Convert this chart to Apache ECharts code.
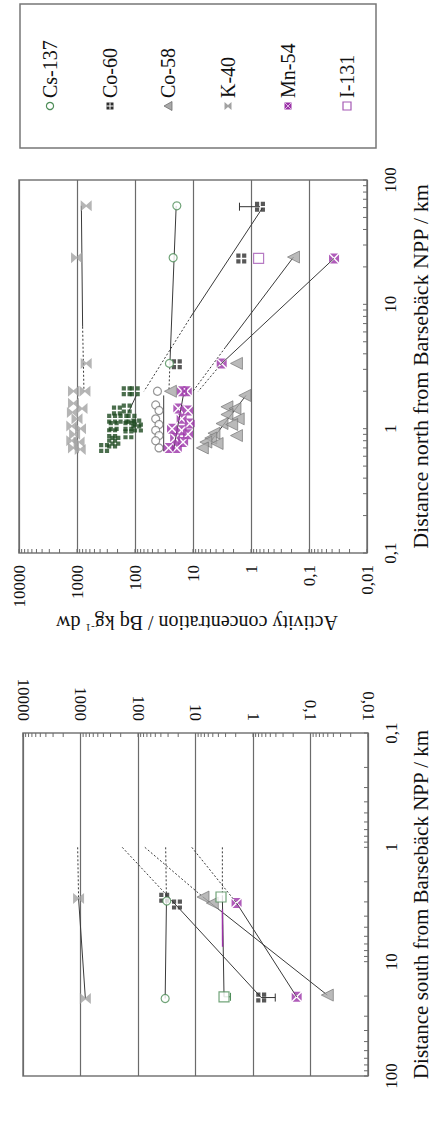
<!DOCTYPE html>
<html>
<head>
<meta charset="utf-8">
<script src="https://cdn.jsdelivr.net/npm/echarts@6/dist/echarts.min.js"></script>
<style>
html,body{margin:0;padding:0;background:#fff;}
#chart{width:439px;height:1121px;}
</style>
</head>
<body>
<div id="chart"></div>
<script>
// ---------- tick labels ----------
const activityTickValues = [0.01, 0.1, 1, 10, 100, 1000, 10000];
const activityTickLabels = ['0,01', '0,1', '1', '10', '100', '1000', '10000'];
const distanceTickValues = [0.1, 1, 10, 100];
const distanceTickLabels = ['0,1', '1', '10', '100'];
const minorMultipliers = [1, 2, 3, 4, 5, 6, 7, 8, 9];

// ---------- legend ----------
const nuclides = ['Cs-137', 'Co-60', 'Co-58', 'K-40', 'Mn-54', 'I-131'];

// ---------- NORTH panel: [activity Bq/kg dw, distance km] ----------
const northCs137 = [[19, 62], [22, 23.7], [25.5, 3.35]];
const northCs137Near = [[41, 2.0], [44, 1.55], [38.6, 1.4], [44, 1.2], [38.6, 1.08], [44, 0.97], [38.6, 0.88], [44, 0.8], [38.6, 0.7]];
const northCo60 = [[0.70, 61], [1.47, 23.4], [19, 3.3]];
const northCo60Near = [[139, 2.0], [101, 2.0], [139, 1.45], [205, 1.4], [248, 1.2], [158, 1.2], [115, 1.2], [95, 1.1], [89, 1.02], [233, 1.05], [130, 1.05], [248, 0.92], [130, 0.9], [218, 0.8], [248, 0.76], [341, 0.7]];
const northCo58 = [[0.185, 24], [1.78, 3.35], [24.5, 2.0], [1.28, 1.85], [2.6, 1.5], [1.89, 1.45], [2.6, 1.3], [1.66, 1.2], [3.16, 1.1], [2.15, 1.08], [4.35, 0.92], [1.78, 0.88], [4.94, 0.84], [6.0, 0.78], [3.84, 0.76], [6.9, 0.7]];
const northK40 = [[694, 62], [1018, 23.7], [694, 3.35], [1150, 2.0], [730, 2.0], [1150, 1.6], [820, 1.45], [1200, 1.35], [1000, 1.2], [1230, 1.05], [870, 1.0], [1100, 0.9], [1230, 0.8], [920, 0.78], [1150, 0.7], [880, 0.68]];
const northMn54 = [[0.037, 23.4], [3.2, 3.35], [15.5, 2.0], [12.8, 2.0], [17.9, 1.45], [12.2, 1.4], [15.7, 1.2], [11.4, 1.1], [23, 1.0], [15.7, 0.97], [12.2, 0.9], [20.3, 0.84], [14.8, 0.78], [26.3, 0.7], [19, 0.7]];
const northI131 = [[0.74, 23.4]];
const northCo60ErrorBar = [[0.70, 61, 1.58]];

const northK40FitSolid = [[841, 62], [800, 6.6]];
const northK40FitDotted = [[800, 6.6], [759, 2.0]];
const northCs137FitSolid = [[19.5, 62], [25, 3.35]];
const northCs137FitDotted = [[25, 3.35], [26, 2.0]];
const northCo60FitSolid = [[0.635, 59.6], [10.8, 8]];
const northCo60FitDotted = [[10.8, 8], [70, 2.0]];
const northCo58FitSolid = [[0.185, 24], [2.77, 4.5]];
const northCo58FitDotted = [[2.77, 4.5], [10, 2.0]];
const northMn54FitSolid = [[0.037, 23.4], [3.2, 3.35]];
const northMn54FitDotted = [[3.2, 3.35], [8.1, 2.0]];
const northCo60NearFit = [[95, 1.85], [130, 1.35]];
const northCs137NearFit = [[32, 1.85], [32, 0.66]];
const northMn54NearFit = [[14.7, 1.85], [21.7, 0.67]];
const northCo58NearFit = [[1.22, 1.85], [4.94, 0.79]];

// ---------- SOUTH panel ----------
const southK40 = [[1080, 2.8], [823, 21]];
const southCs137 = [[31.6, 2.95], [33.7, 21]];
const southCo60 = [[35, 2.76], [21, 3.17], [0.72, 20.6]];
const southCo58 = [[7.4, 2.72], [5.1, 3.07], [0.051, 19.6]];
const southI131 = [[3.6, 2.72], [3.19, 20.3]];
const southMn54 = [[1.93, 3.07], [0.174, 20.3]];
const southCo60ErrorBar = [[0.72, 20.6, 0.41]];
const southI131ErrorBar = [[3.19, 20.3, 2.46]];

const southK40FitDotted = [[1120, 1], [1080, 2.8]];
const southK40FitSolid = [[1080, 2.8], [823, 21]];
const southCs137FitDotted = [[33, 1], [32, 2.95]];
const southCs137FitSolid = [[32, 2.95], [33.7, 21]];
const southCo60FitDotted = [[188, 1], [26.3, 2.89]];
const southCo60FitSolid = [[26.3, 2.89], [0.72, 20.6]];
const southCo58FitDotted = [[76, 1], [7.4, 2.72]];
const southCo58FitSolid = [[7.4, 2.72], [0.051, 19.6]];
const southMn54FitDotted = [[11.6, 1], [1.93, 3.07]];
const southMn54FitSolid = [[1.93, 3.07], [0.174, 20.3]];
const southI131FitDotted = [[3.41, 1], [3.41, 2.72]];
const southI131FitSolid = [[3.41, 2.72], [3.19, 20.3]];
const southI131FitPurple = [[3.41, 3.5], [3.38, 7.4]];

// ---------- styling ----------
const FONT = '"Liberation Serif", "DejaVu Serif", serif';
const C = {
  cs: '#4e8d58', co60g: '#1e4a20', co60k: '#2e2e2e', co58: '#a9a9a9', co58s: '#6e6e6e',
  k40: '#a2a2a2', mn: '#9b32a7', i131: '#a55ab5', line: '#3a3a3a', grid: '#6b6b6b', tick: '#6b6b6b'
};
const SYM = {
  co60: 'path://M0,0H4.2V4.2H0Z M5.8,0H10V4.2H5.8Z M0,5.8H4.2V10H0Z M5.8,5.8H10V10H5.8Z',
  k40: 'path://M0,0L5,4.2L10,0V10L5,5.8L0,10Z',
  mn: 'path://M1,0H9L5,4Z M10,1V9L6,5Z M9,10H1L5,6Z M0,9V1L4,5Z'
};

function labelFormatter(values, labels) {
  return function (v) {
    const i = values.findIndex(t => Math.abs(Math.log10(t) - Math.log10(v)) < 1e-6);
    return i >= 0 ? labels[i] : '';
  };
}

function activityAxis(g, position, margin) {
  return {
    type: 'log', logBase: 10, min: 0.01, max: 10000, inverse: true, gridIndex: g, position: position,
    axisLine: { show: false }, axisTick: { show: false },
    splitLine: { show: true, lineStyle: { color: C.grid, width: 1.2 } },
    axisLabel: { rotate: 90, margin: margin, fontFamily: FONT, fontSize: 17, color: '#111',
      formatter: labelFormatter(activityTickValues, activityTickLabels) }
  };
}
function distanceAxis(g, inverse, name, nameSize) {
  return {
    type: 'log', logBase: 10, min: 0.1, max: 100, inverse: inverse, gridIndex: g, position: 'right',
    axisLine: { show: false }, axisTick: { show: false }, splitLine: { show: false },
    axisLabel: { rotate: 90, margin: 15, fontFamily: FONT, fontSize: 17, color: '#111',
      formatter: labelFormatter(distanceTickValues, distanceTickLabels) },
    name: name, nameLocation: 'middle', nameRotate: 90, nameGap: 42,
    nameTextStyle: { fontFamily: FONT, fontSize: nameSize, color: '#111' }
  };
}

function pts(data, g, symbol, size, style, rot) {
  return { type: 'scatter', xAxisIndex: g, yAxisIndex: g, data: data, symbol: symbol, symbolSize: size,
    symbolRotate: rot || 0, symbolKeepAspect: true, itemStyle: style, z: 5, silent: true };
}
function seg(data, g, dotted, color, width) {
  return { type: 'line', xAxisIndex: g, yAxisIndex: g, data: data, symbol: 'none', showSymbol: false,
    lineStyle: { color: color || C.line, width: width || 1, type: dotted ? [2, 2] : 'solid' }, z: 3, silent: true };
}
function errorBars(data, g, color) {
  return { type: 'custom', xAxisIndex: g, yAxisIndex: g, data: data, z: 4, silent: true, clip: false,
    encode: { x: 0, y: 1 },
    renderItem: function (params, api) {
      const p = api.coord([api.value(0), api.value(1)]);
      const q = api.coord([api.value(2), api.value(1)]);
      return { type: 'group', children: [
        { type: 'line', shape: { x1: p[0], y1: p[1], x2: q[0], y2: q[1] }, style: { stroke: color, lineWidth: 1 } },
        { type: 'line', shape: { x1: q[0], y1: q[1] - 4, x2: q[0], y2: q[1] + 4 }, style: { stroke: color, lineWidth: 1 } }
      ] };
    } };
}
function tickValues(loExp, hiExp) {
  const out = [];
  for (let e = loExp; e < hiExp; e++) minorMultipliers.forEach(m => out.push(m * Math.pow(10, e)));
  out.push(Math.pow(10, hiExp));
  return out;
}
function activityTicks(g, dir) {
  const data = tickValues(-2, 4).map(v => [v, 0.1]);
  return { type: 'custom', xAxisIndex: g, yAxisIndex: g, data: data, z: 2, silent: true, clip: false,
    encode: { x: 0, y: 1 },
    renderItem: function (params, api) {
      const p = api.coord([api.value(0), api.value(1)]);
      return { type: 'line', shape: { x1: p[0], y1: p[1], x2: p[0], y2: p[1] + dir * 4 }, style: { stroke: C.tick, lineWidth: 1 } };
    } };
}
function distanceTicks(g) {
  const data = tickValues(-1, 2).map(v => [0.01, v]);
  return { type: 'custom', xAxisIndex: g, yAxisIndex: g, data: data, z: 2, silent: true, clip: false,
    encode: { x: 0, y: 1 },
    renderItem: function (params, api) {
      const p = api.coord([api.value(0), api.value(1)]);
      return { type: 'line', shape: { x1: p[0], y1: p[1], x2: p[0] - 4, y2: p[1] }, style: { stroke: C.tick, lineWidth: 1 } };
    } };
}

const open = (c) => ({ color: '#fff', borderColor: c, borderWidth: 1.2 });
const tri = { color: C.co58, borderColor: C.co58s, borderWidth: 0.8 };

const series = [
  activityTicks(0, -1), distanceTicks(0), activityTicks(1, 1), distanceTicks(1),
  // north lines
  seg(northK40FitSolid, 0), seg(northK40FitDotted, 0, true),
  seg(northCs137FitSolid, 0), seg(northCs137FitDotted, 0, true),
  seg(northCo60FitSolid, 0), seg(northCo60FitDotted, 0, true),
  seg(northCo58FitSolid, 0), seg(northCo58FitDotted, 0, true),
  seg(northMn54FitSolid, 0), seg(northMn54FitDotted, 0, true),
  seg(northCo60NearFit, 0), seg(northCs137NearFit, 0), seg(northMn54NearFit, 0), seg(northCo58NearFit, 0),
  // north points
  pts(northK40, 0, SYM.k40, 11, { color: C.k40 }),
  pts(northCo60Near, 0, SYM.co60, 10, { color: C.co60g }),
  pts(northCo60, 0, SYM.co60, 10, { color: C.co60k }),
  pts(northCs137Near, 0, 'circle', 8, open('#7a7a7a')),
  pts(northCs137, 0, 'circle', 8, open(C.cs)),
  pts(northCo58, 0, 'triangle', 12, tri, 90),
  pts(northMn54, 0, SYM.mn, 10, { color: C.mn }),
  pts(northI131, 0, 'rect', 10, open(C.i131)),
  errorBars(northCo60ErrorBar, 0, '#333'),
  // south lines
  seg(southK40FitDotted, 1, true), seg(southK40FitSolid, 1),
  seg(southCs137FitDotted, 1, true), seg(southCs137FitSolid, 1),
  seg(southCo60FitDotted, 1, true), seg(southCo60FitSolid, 1),
  seg(southCo58FitDotted, 1, true), seg(southCo58FitSolid, 1),
  seg(southMn54FitDotted, 1, true), seg(southMn54FitSolid, 1),
  seg(southI131FitDotted, 1, true), seg(southI131FitSolid, 1), seg(southI131FitPurple, 1, false, C.mn, 1.4),
  // south points
  pts(southK40, 1, SYM.k40, 11, { color: C.k40 }),
  pts(southCo60, 1, SYM.co60, 10, { color: C.co60k }),
  pts(southCs137, 1, 'circle', 8, open(C.cs)),
  pts(southCo58, 1, 'triangle', 12, tri, 90),
  pts(southMn54, 1, SYM.mn, 10, { color: C.mn }),
  pts(southI131, 1, 'rect', 10, open(C.cs)),
  errorBars(southCo60ErrorBar, 1, '#333'),
  errorBars(southI131ErrorBar, 1, C.cs)
];

// legend graphics (rotated like the rest of the figure)
const legendX = [50, 110, 168, 228, 288, 347];
const legendSymY = 106;
function legendSymbol(i) {
  const x = legendX[i], y = legendSymY;
  switch (i) {
    case 0: return { type: 'circle', shape: { cx: x, cy: y, r: 3.6 }, style: { fill: '#fff', stroke: C.cs, lineWidth: 1.2 } };
    case 1: return { type: 'group', children: [
      { type: 'rect', shape: { x: x - 3.5, y: y - 3.5, width: 7, height: 7 }, style: { fill: C.co60k } },
      { type: 'line', shape: { x1: x, y1: y - 3.5, x2: x, y2: y + 3.5 }, style: { stroke: '#fff', lineWidth: 1 } },
      { type: 'line', shape: { x1: x - 3.5, y1: y, x2: x + 3.5, y2: y }, style: { stroke: '#fff', lineWidth: 1 } }] };
    case 2: return { type: 'polygon', shape: { points: [[x + 4, y - 4.5], [x + 4, y + 4.5], [x - 4, y]] }, style: { fill: C.co58, stroke: C.co58s, lineWidth: 0.8 } };
    case 3: return { type: 'polygon', shape: { points: [[x - 3.5, y - 4], [x, y - 1], [x + 3.5, y - 4], [x + 3.5, y + 4], [x, y + 1], [x - 3.5, y + 4]] }, style: { fill: C.k40 } };
    case 4: return { type: 'group', children: [
      { type: 'rect', shape: { x: x - 3.5, y: y - 3.5, width: 7, height: 7 }, style: { fill: C.mn } },
      { type: 'line', shape: { x1: x - 3.5, y1: y - 3.5, x2: x + 3.5, y2: y + 3.5 }, style: { stroke: '#e3c6ea', lineWidth: 0.9 } },
      { type: 'line', shape: { x1: x + 3.5, y1: y - 3.5, x2: x - 3.5, y2: y + 3.5 }, style: { stroke: '#e3c6ea', lineWidth: 0.9 } }] };
    default: return { type: 'rect', shape: { x: x - 4, y: y - 4, width: 8, height: 8 }, style: { fill: '#fff', stroke: C.i131, lineWidth: 1.2 } };
  }
}
const graphics = [
  { type: 'rect', shape: { x: 20, y: 4, width: 356, height: 144 }, style: { fill: 'none', stroke: '#777', lineWidth: 1.5 }, z: 10 }
];
nuclides.forEach((n, i) => {
  graphics.push(legendSymbol(i));
  graphics.push({ type: 'text', x: legendX[i], y: 98, rotation: Math.PI / 2,
    style: { text: n, font: '20px ' + FONT, fill: '#111', textAlign: 'left', textVerticalAlign: 'middle' } });
});
graphics.push({ type: 'text', x: 197, y: 623, rotation: Math.PI,
  style: { text: 'Activity concentration / Bq kg{sup|-1} dw', font: '20px ' + FONT, fill: '#111',
    textAlign: 'center', textVerticalAlign: 'middle',
    rich: { sup: { fontSize: 11, fontFamily: FONT, fill: '#111', verticalAlign: 'top' } } } });

const chart = echarts.init(document.getElementById('chart'), null, { renderer: 'svg' });
chart.setOption({
  animation: false,
  backgroundColor: '#fff',
  grid: [
    { left: 19, top: 180, width: 359, height: 373, show: true, borderColor: '#777', borderWidth: 1.5, backgroundColor: 'transparent' },
    { left: 23, top: 733, width: 355, height: 343, show: true, borderColor: '#777', borderWidth: 1.5, backgroundColor: 'transparent' }
  ],
  xAxis: [activityAxis(0, 'bottom', 12), activityAxis(1, 'top', 12)],
  yAxis: [distanceAxis(0, false, 'Distance north from Barsebäck NPP / km', 22),
          distanceAxis(1, true, 'Distance south from Barsebäck NPP / km', 21)],
  graphic: graphics,
  series: series
});
</script>
</body>
</html>
